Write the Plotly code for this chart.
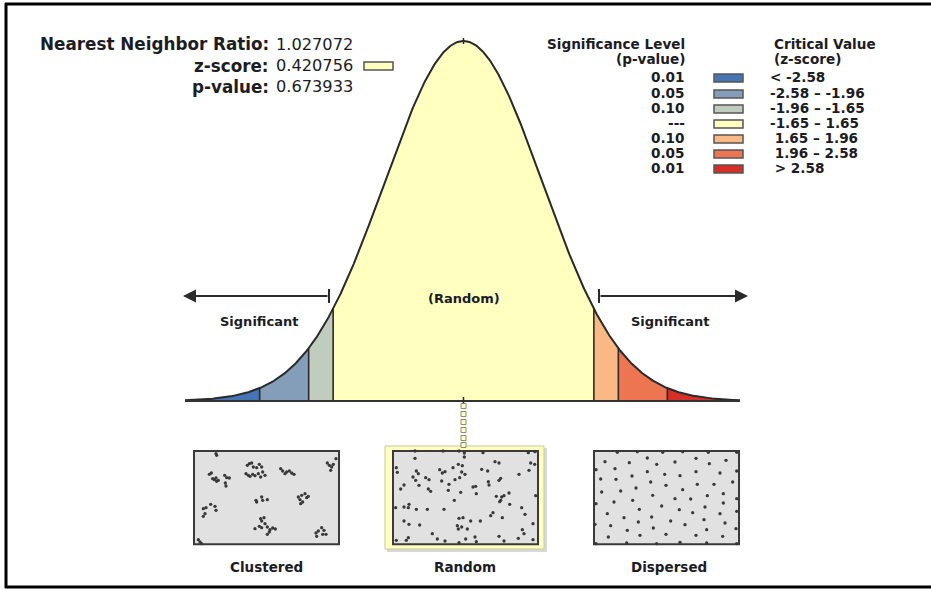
import numpy as np
import plotly.graph_objects as go

OFF = 0
W, H = 931, 589

# ---------------- data ----------------
nn_ratio = "1.027072"
z_score = "0.420756"
p_value = "0.673933"

critical_values = [-2.58, -1.96, -1.65, 1.65, 1.96, 2.58]
curve_limits = [-3.525, 3.5]
band_colors = ["#4575B5", "#849EBA", "#C0CCBE", "#FFFFBF", "#FAB984", "#ED7551", "#D62F27"]

legend_p = ["0.01", "0.05", "0.10", "---", "0.10", "0.05", "0.01"]
legend_z = ["< -2.58", "-2.58 \u2013 -1.96", "-1.96 \u2013 -1.65", "-1.65 \u2013 1.65",
            " 1.65 \u2013 1.96", " 1.96 \u2013 2.58", " > 2.58"]

pattern_labels = ["Clustered", "Random", "Dispersed"]

clustered_pts = [
    (78, 20), (80, 25),
    (58, 82), (64, 78), (68, 95), (73, 98), (78, 93), (80, 103), (85, 100), (104, 85), (110, 92),
    (118, 93), (106, 108), (108, 117),
    (172, 55), (178, 50), (185, 48), (190, 60), (200, 62), (208, 52), (215, 60), (168, 80), (175, 85),
    (180, 88), (188, 82), (195, 86), (205, 80), (218, 75), (225, 85), (212, 90),
    (272, 65), (278, 72), (285, 80), (290, 75), (298, 72), (305, 78), (312, 82),
    (412, 48), (418, 55), (425, 60), (430, 52), (438, 35), (422, 70),
    (198, 160), (200, 165), (215, 150), (218, 160), (232, 158),
    (325, 150), (330, 158), (335, 145), (345, 140), (350, 152), (355, 148), (338, 165), (332, 170),
    (40, 185), (48, 182), (62, 172), (75, 178), (78, 190), (45, 200), (40, 208),
    (212, 215), (222, 212), (215, 222), (225, 230), (208, 238), (195, 245), (215, 242), (232, 240),
    (240, 248), (248, 243), (256, 246), (238, 255), (232, 262),
    (378, 258), (380, 268), (385, 252), (395, 242), (402, 250), (408, 262), (398, 262),
    (25, 278), (30, 285), (35, 290),
]

random_pts = [
    (78, 12), (162, 12), (210, 12), (226, 18), (282, 17), (418, 17), (438, 14),
    (78, 34), (226, 30),
    (22, 62), (25, 76), (152, 68), (160, 78), (168, 74), (192, 62), (208, 52), (220, 56), (218, 75),
    (228, 82), (278, 67), (296, 72), (318, 44), (330, 48), (425, 48), (437, 52), (420, 70), (390, 82),
    (72, 90), (82, 72), (88, 80), (80, 100), (110, 92), (120, 98), (158, 102), (180, 112), (198, 98),
    (212, 92), (252, 120), (260, 118), (298, 104), (300, 114), (330, 100), (335, 94), (35, 126),
    (45, 114), (90, 115), (118, 126), (125, 133), (178, 130), (215, 136), (262, 140), (322, 148),
    (335, 160), (338, 150), (345, 146), (360, 138), (440, 146),
    (196, 160), (332, 164), (362, 172),
    (20, 182), (45, 180), (58, 182), (60, 172), (82, 187), (115, 187), (165, 187), (398, 182),
    (408, 202), (312, 197), (305, 206), (340, 212),
    (45, 222), (60, 232), (92, 234), (210, 214), (222, 212), (245, 222), (274, 222), (205, 236),
    (208, 246), (218, 240), (235, 246), (432, 230), (400, 248), (405, 260),
    (130, 260), (145, 276), (168, 282), (210, 287), (230, 276), (258, 270), (262, 284), (330, 268),
    (345, 282), (388, 274), (432, 278), (22, 280), (52, 280), (58, 272),
]

dispersed_pts = [
    (82, 16), (142, 14), (218, 16), (278, 14), (355, 16), (440, 16),
    (45, 44), (118, 47), (172, 33), (200, 52), (255, 45), (318, 34), (358, 50), (408, 40),
    (75, 65), (18, 68),
    (32, 96), (78, 97), (126, 87), (172, 74), (224, 82), (270, 86), (318, 74), (390, 78), (440, 72),
    (182, 105), (228, 115), (322, 112), (372, 112), (428, 105),
    (35, 135), (92, 132), (138, 123), (278, 128), (400, 140),
    (72, 165), (128, 160), (188, 145), (255, 155), (302, 156), (352, 146), (400, 168), (440, 155),
    (18, 170),
    (148, 187), (215, 177), (268, 188), (345, 180), (440, 193),
    (52, 200), (102, 212), (185, 210), (308, 197), (390, 200),
    (15, 232), (62, 236), (145, 225), (242, 222), (285, 233), (342, 218), (405, 228),
    (112, 250), (190, 243), (350, 248), (438, 245),
    (55, 270), (150, 265), (228, 262), (318, 265), (398, 268),
    (18, 290), (110, 288), (200, 290), (270, 286), (350, 288), (440, 290),
]

# ---------------- layout helpers (reference pixels -> paper / axis) ----------------
CX, PX_PER_Z = 463.5, 79.0
BASE_PY, PX_PER_Y = 401.0, 902.5


def fx(x):
    return (x - OFF) / W


def fy(y):
    return 1 - (y - OFF) / H


def zx(x_px):
    return (x_px - CX) / PX_PER_Z


def zy(y_px):
    return (BASE_PY - y_px) / PX_PER_Y


def pdf(z):
    return np.exp(-np.asarray(z) ** 2 / 2) / np.sqrt(2 * np.pi)


FONT = "DejaVu Sans"
TXT = "#1c1c24"
LINE = "#2a2a2a"

fig = go.Figure()

# ---------------- bell curve ----------------
bounds = [curve_limits[0]] + critical_values + [curve_limits[1]]
for i in range(len(bounds) - 1):
    a, b = bounds[i], bounds[i + 1]
    xs = np.linspace(a, b, 120)
    ys = pdf(xs)
    fig.add_trace(go.Scatter(
        x=list(xs) + [b, a], y=list(ys) + [0, 0], fill="toself", fillcolor=band_colors[i],
        mode="lines", line=dict(width=0), hoverinfo="skip", showlegend=False))

xs = np.linspace(curve_limits[0], curve_limits[1], 600)
fig.add_trace(go.Scatter(x=xs, y=pdf(xs), mode="lines", line=dict(color=LINE, width=2),
                         hoverinfo="skip", showlegend=False))
for c in critical_values:
    fig.add_trace(go.Scatter(x=[c, c], y=[0, float(pdf(c))], mode="lines",
                             line=dict(color=LINE, width=1.6), hoverinfo="skip", showlegend=False))
fig.add_trace(go.Scatter(x=curve_limits, y=[0, 0], mode="lines", line=dict(color="#333333", width=2.2),
                         hoverinfo="skip", showlegend=False))

# dotted connector to Random pattern
dot_py = [406, 414, 422, 430, 438, 445]
fig.add_trace(go.Scatter(x=[0] * len(dot_py), y=[zy(p) for p in dot_py], mode="markers",
                         marker=dict(symbol="square", size=5, color="#FFFFC8",
                                     line=dict(color="#8c8c70", width=1)),
                         hoverinfo="skip", showlegend=False))

# ---------------- point patterns ----------------
pattern_axes = [("x2", "y2", clustered_pts), ("x3", "y3", random_pts), ("x4", "y4", dispersed_pts)]
for xa, ya, pts in pattern_axes:
    fig.add_trace(go.Scatter(x=[p[0] for p in pts], y=[p[1] for p in pts], mode="markers",
                             xaxis=xa, yaxis=ya,
                             marker=dict(symbol="circle", size=3.3, color="#383838"),
                             hoverinfo="skip", showlegend=False))

shapes = []
# outer frame
shapes.append(dict(type="line", xref="paper", yref="paper", x0=fx(5), x1=fx(931), y0=fy(4), y1=fy(4),
                   line=dict(color="black", width=3)))
shapes.append(dict(type="line", xref="paper", yref="paper", x0=fx(6), x1=fx(6), y0=fy(3), y1=fy(588),
                   line=dict(color="black", width=3)))
shapes.append(dict(type="line", xref="paper", yref="paper", x0=fx(5), x1=fx(931), y0=fy(587), y1=fy(587),
                   line=dict(color="black", width=3)))

# random frame (shadow + yellow frame)
shapes.append(dict(type="rect", xref="paper", yref="paper", x0=fx(387), x1=fx(547), y0=fy(448), y1=fy(552),
                   fillcolor="#d8d8d8", line=dict(width=0), layer="below"))
shapes.append(dict(type="rect", xref="paper", yref="paper", x0=fx(385), x1=fx(544), y0=fy(446), y1=fy(549),
                   fillcolor="#FFFFC0", line=dict(color="#c9c99a", width=1), layer="below"))
for xa, ya in [("x2", "y2"), ("x3", "y3"), ("x4", "y4")]:
    shapes.append(dict(type="rect", xref=xa, yref=ya, x0=12, x1=447, y0=12, y1=292,
                       fillcolor="#E1E1E1", line=dict(color="#3a3a3a", width=2), layer="below"))

# ticks at peak and baseline
shapes.append(dict(type="line", xref="x", yref="y", x0=0, x1=0, y0=zy(44), y1=zy(38),
                   line=dict(color=LINE, width=1.5)))
shapes.append(dict(type="line", xref="x", yref="y", x0=0, x1=0, y0=zy(397), y1=zy(403),
                   line=dict(color=LINE, width=1.5)))

# significance arrows: bars
arrow_py = 296
for bx in [329, 599]:
    shapes.append(dict(type="line", xref="x", yref="y", x0=zx(bx), x1=zx(bx), y0=zy(289), y1=zy(303),
                       line=dict(color=LINE, width=2)))

annotations = []
for tail, head in [(329, 183), (599, 748)]:
    annotations.append(dict(x=zx(head), y=zy(arrow_py), ax=zx(tail), ay=zy(arrow_py), xref="x", yref="y",
                            axref="x", ayref="y", text="", showarrow=True, arrowhead=2, arrowsize=1.3,
                            arrowwidth=2, arrowcolor=LINE, standoff=0, startstandoff=0))


def label(x, y, text, size, anchor="left", bold=False, color=TXT):
    annotations.append(dict(xref="paper", yref="paper", x=fx(x), y=fy(y), text=f"<b>{text}</b>" if bold else text,
                            showarrow=False, xanchor=anchor, yanchor="middle",
                            font=dict(family=FONT, size=size, color=color)))


# stats
stat_rows = [("Nearest Neighbor Ratio:", nn_ratio, 44), ("z-score:", z_score, 66), ("p-value:", p_value, 87)]
for lab, val, y in stat_rows:
    label(271, y, lab, 16.8, anchor="right", bold=True)
    label(274, y, val, 16.2, anchor="left")
shapes.append(dict(type="rect", xref="paper", yref="paper", x0=fx(364), x1=fx(393), y0=fy(62), y1=fy(70),
                   fillcolor=band_colors[3], line=dict(color="#555555", width=1.5)))

# legend
LF = 13.6
label(687, 44, "Significance Level", LF, anchor="right", bold=True)
label(687, 59, "(p-value)", LF, anchor="right", bold=True)
label(772, 44, "Critical Value", LF, anchor="left", bold=True)
label(772, 59, "(z-score)", LF, anchor="left", bold=True)
row_y = [77, 93, 108, 123, 138, 153, 168]
for i, y in enumerate(row_y):
    label(687, y, legend_p[i], LF, anchor="right", bold=True)
    label(768, y, legend_z[i], LF, anchor="left", bold=True)
    shapes.append(dict(type="rect", xref="paper", yref="paper", x0=fx(714), x1=fx(743), y0=fy(y - 3), y1=fy(y + 5),
                       fillcolor=band_colors[i], line=dict(color="#555555", width=1.5)))

# curve labels
label(464, 298, "(Random)", 13, anchor="center", bold=True)
label(259, 321, "Significant", 13, anchor="center", bold=True)
label(670, 321, "Significant", 13, anchor="center", bold=True)

# pattern labels
for x, t in zip([266, 465, 669], pattern_labels):
    label(x, 567, t, 13.5, anchor="center", bold=True)

ax_off = dict(visible=False, showgrid=False, zeroline=False, fixedrange=True)
fig.update_layout(
    width=W, height=H, margin=dict(l=0, r=0, t=0, b=0),
    paper_bgcolor="white", plot_bgcolor="rgba(0,0,0,0)",
    xaxis=dict(domain=[0, 1], range=[zx(OFF), zx(OFF + W)], **ax_off),
    yaxis=dict(domain=[0, 1], range=[zy(OFF + H), zy(OFF)], **ax_off),
    xaxis2=dict(domain=[fx(190), fx(344)], range=[0, 462], anchor="y2", **ax_off),
    yaxis2=dict(domain=[fy(549), fy(447)], range=[306, 0], anchor="x2", **ax_off),
    xaxis3=dict(domain=[fx(389), fx(543)], range=[0, 462], anchor="y3", **ax_off),
    yaxis3=dict(domain=[fy(549), fy(447)], range=[306, 0], anchor="x3", **ax_off),
    xaxis4=dict(domain=[fx(590), fx(744)], range=[0, 462], anchor="y4", **ax_off),
    yaxis4=dict(domain=[fy(549), fy(447)], range=[306, 0], anchor="x4", **ax_off),
    shapes=shapes, annotations=annotations, showlegend=False, hovermode=False,
)

# remove the browser's default 8px page margin so the figure sits at the window origin
fig.write_html("out.html", config={"displayModeBar": False, "staticPlot": True},
               post_script="document.body.style.margin='0px';document.body.style.overflow='hidden';")
